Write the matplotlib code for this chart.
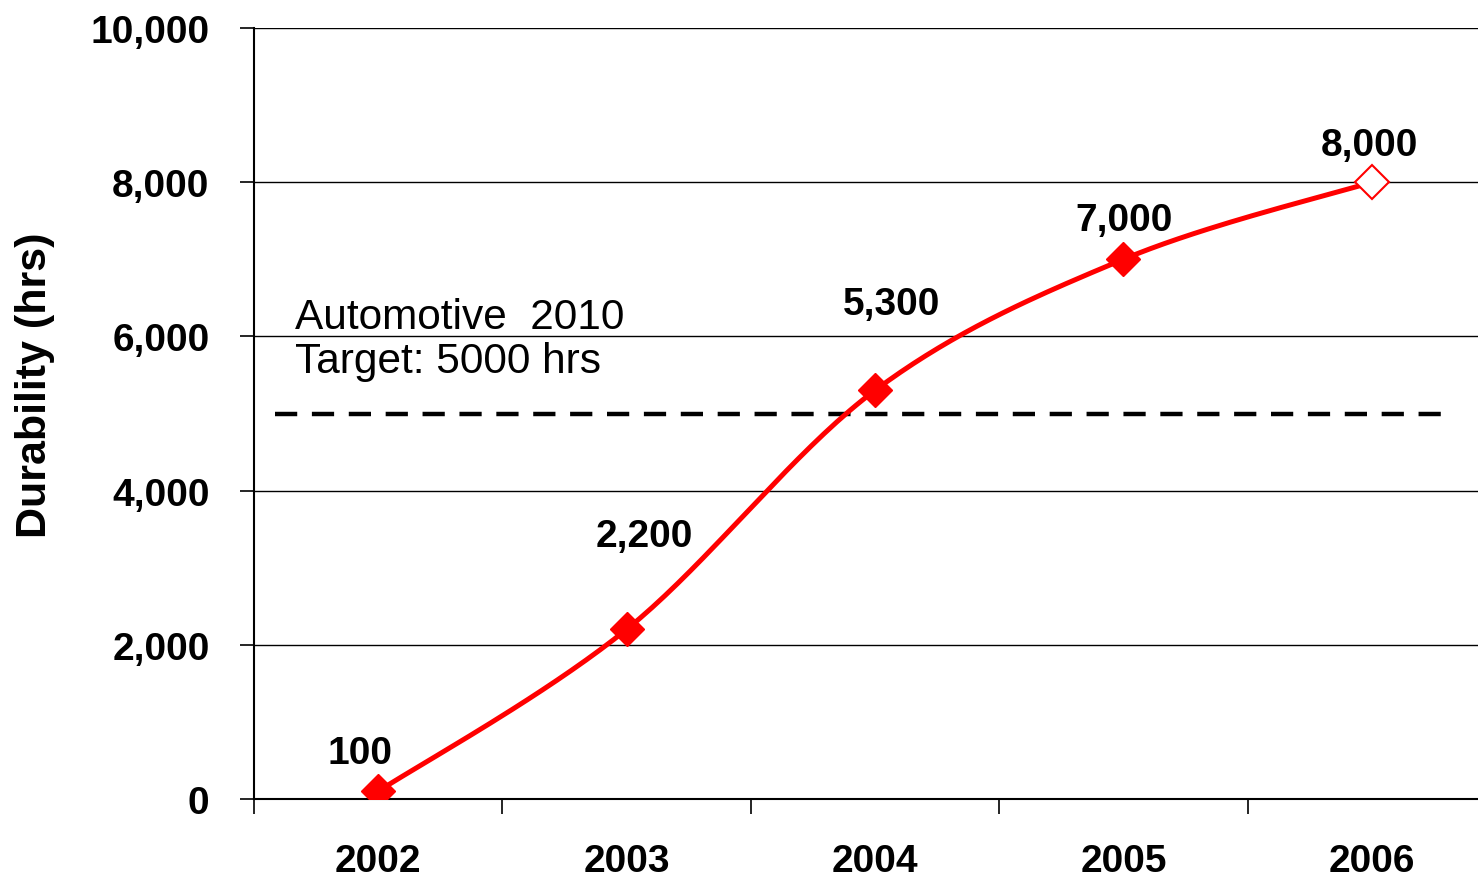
import numpy as np
from matplotlib import pyplot as plt
from matplotlib.ticker import FuncFormatter

years = ['2002', '2003', '2004', '2005', '2006']
durability = [100, 2200, 5300, 7000, 8000]
value_labels = ['100', '2,200', '5,300', '7,000', '8,000']
target = 5000
target_text = 'Automotive  2010\nTarget: 5000 hrs'

plt.rcParams['font.family'] = ['Liberation Sans', 'DejaVu Sans']

fig = plt.figure(figsize=(14.78, 8.78), dpi=100)
ax = fig.add_axes([254 / 1478, 78 / 878, (1496 - 254) / 1478, 771 / 878])

x = np.arange(len(years), dtype=float)
y = np.array(durability, dtype=float)

# smooth line like excel: catmull-rom in screen-ish space
sx, sy = 248.6, 771 / 10000
px, py = x * sx, y * sy
P = np.column_stack([px, py])
P = np.vstack([P[0], P, P[-1]])
curve = []
for i in range(1, len(P) - 2):
    p0, p1, p2, p3 = P[i - 1], P[i], P[i + 1], P[i + 2]
    c1 = p1 + (p2 - p0) / 6
    c2 = p2 - (p3 - p1) / 6
    t = np.linspace(0, 1, 40)[:, None]
    seg = (1 - t) ** 3 * p1 + 3 * (1 - t) ** 2 * t * c1 + 3 * (1 - t) * t ** 2 * c2 + t ** 3 * p2
    curve.append(seg)
curve = np.vstack(curve)
ax.plot(curve[:, 0] / sx, curve[:, 1] / sy, color='red', lw=3.6, zorder=3)

ax.plot(x[:-1], y[:-1], 'D', color='red', ms=17, zorder=4)
ax.plot(x[-1], y[-1], 'D', mfc='white', mec='red', mew=1.5, ms=17, zorder=4)

offsets = [(-18, 38), (18, 93), (17, 86), (1, 39), (-2, 37)]
for xi, yi, lab, off in zip(x, y, value_labels, offsets):
    ax.annotate(lab, (xi, yi), xytext=off, textcoords='offset pixels',
                ha='center', va='center', fontsize=28, fontweight='bold')

ax.plot([-0.414, 4.28], [target, target], color='black', lw=3.2, ls=(0, (5, 3.3)), zorder=2)
ax.text(-0.335, 6510, target_text, fontsize=30.5, va='top', ha='left', linespacing=1.12)

ax.set_xlim(-0.5, 4.5)
ax.set_ylim(0, 10000)
ax.set_yticks(range(0, 10001, 2000))
ax.yaxis.set_major_formatter(FuncFormatter(lambda v, p: f'{int(v):,}'))
ax.set_xticks(x)
ax.set_xticklabels(years)
ax.set_xticks(np.arange(-0.5, 5, 1), minor=True)
ax.tick_params(axis='x', which='major', length=0, pad=32, labelsize=28)
ax.tick_params(axis='x', which='minor', length=11, width=1.2, direction='out')
ax.tick_params(axis='y', length=10, width=1.2, pad=22, labelsize=28)
for lab in ax.get_xticklabels() + ax.get_yticklabels():
    lab.set_fontweight('bold')

ax.grid(axis='y', color='black', lw=1)
ax.set_axisbelow(True)
ax.spines['right'].set_visible(False)
ax.spines['top'].set_visible(False)
ax.spines['left'].set_linewidth(1.5)
ax.spines['bottom'].set_linewidth(1.5)

fig.text(35 / 1478, 1 - 385 / 878, 'Durability (hrs)', rotation=90, ha='center', va='center',
         fontsize=31, fontweight='bold')

plt.savefig('out.png', dpi=100)
